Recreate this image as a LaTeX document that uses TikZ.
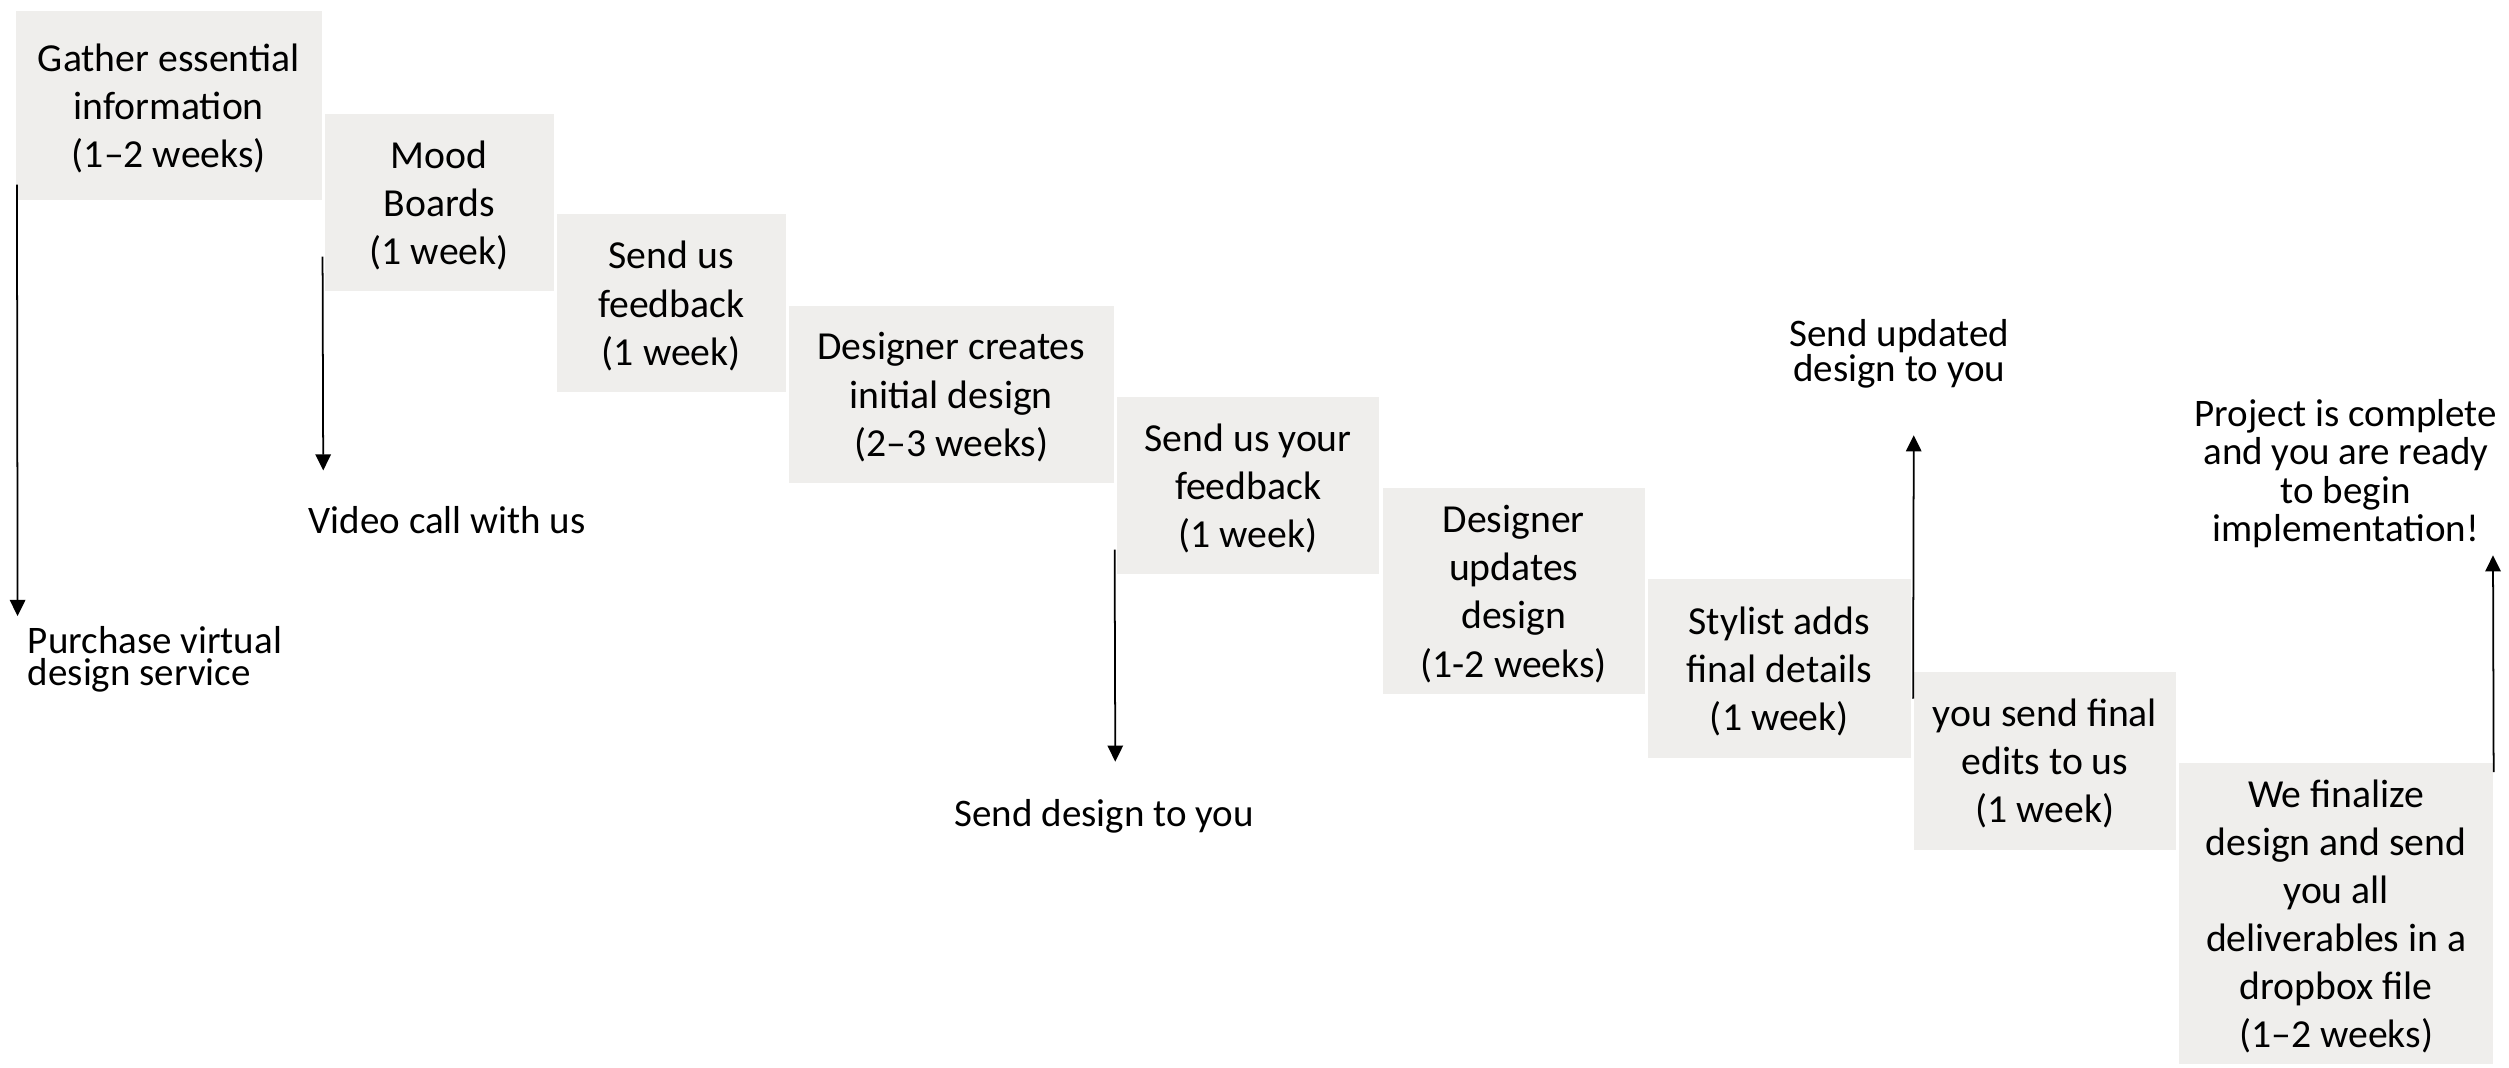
\documentclass[tikz,border=0pt]{standalone}
\usepackage{fontspec}
\setmainfont{Carlito}
\usetikzlibrary{arrows.meta, calc}
\definecolor{stagegray}{RGB}{239,238,236}

\begin{document}
\begin{tikzpicture}[x=0.016cm, y=-0.016cm,
  stage/.style={fill=stagegray, align=center, inner sep=0pt, text depth=0pt,
    font=\fontsize{11.3pt}{13.7pt}\selectfont},
  note/.style={align=center, inner sep=0pt, font=\fontsize{11.1pt}{#1}\selectfont},
  flow/.style={-{Triangle[width=4.4pt,length=4.6pt]}, line width=0.5pt}]
  \useasboundingbox (0,0) rectangle (1568,667);

  % the stages, stepping down from left to right
  \foreach \nm/\cx/\cy/\w/\h/\txt in {
    gather/105.5/66/3.056/1.888/{Gather essential\\information\\(1–2 weeks)},
    mood/274.5/126.5/2.288/1.776/{Mood\\Boards\\(1 week)},
    feedback/419.5/189.5/2.288/1.776/{Send us\\feedback\\(1 week)},
    initial/594.5/246.5/3.248/1.776/{Designer creates\\initial design\\(2–3 weeks)},
    yourfb/780/303.5/2.624/1.776/{Send us your\\feedback\\(1 week)},
    updates/946/369.5/2.624/2.064/{Designer\\updates\\design\\(1-2 weeks)},
    stylist/1112/418/2.624/1.792/{Stylist adds\\final details\\(1 week)},
    edits/1278/475.5/2.624/1.776/{you send final\\edits to us\\(1 week)},
    finalize/1460/571/3.136/3.008/{We finalize\\design and send\\you all\\deliverables in a\\dropbox file\\(1–2 weeks)}}
    \node (\nm) [stage, minimum width=\w cm, minimum height=\h cm] at (\cx,\cy) {\txt};

  % milestones
  \node (purchase) [note=9.3pt, align=left, anchor=west] at (17,412) {Purchase virtual\\design service};
  \node (video) [note=13pt] at (279.5,325) {Video call with us};
  \node (senddesign) [note=13pt] at (690,510) {Send design to you};
  \node (updated) [note=10pt] at (1187,221) {Send updated\\design to you};
  \node (complete) [note=10.9pt] at (1466,296) {Project is complete\\and you are ready\\to begin\\implementation!};

  \coordinate (tip1) at (11,385);
  \coordinate (tip2) at (202,294);
  \coordinate (tip3) at (697,476);
  \coordinate (tip4) at (1196,272);
  \coordinate (tip5) at (1558,347);

  \draw[flow] ($(gather.south west)+(1,-10)$) -- (tip1);
  \draw[flow] ($(mood.south west)+(-1,-22)$) -- (tip2);
  \draw[flow] ($(yourfb.south west)+(-1,-16)$) -- (tip3);
  \draw[flow] ($(edits.north west)+(0,17)$) -- (tip4);
  \draw[flow] ($(finalize.north east)+(0,6)$) -- (tip5);
\end{tikzpicture}
\end{document}
